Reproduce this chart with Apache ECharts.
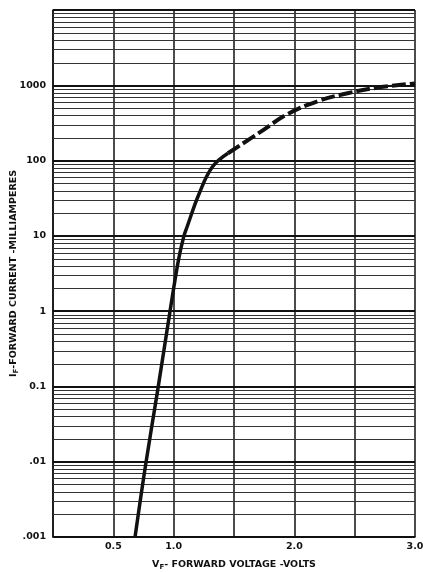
<!DOCTYPE html>
<html>
<head>
<meta charset="utf-8">
<script src="https://cdn.jsdelivr.net/npm/echarts@6/dist/echarts.min.js"></script>
<style>
html,body{margin:0;padding:0;background:#fff;}
#chart{width:423px;height:572px;}
</style>
</head>
<body>
<div id="chart"></div>
<script>
// Forward voltage (V) vs forward current (mA)
var solidVolts   = [0.68, 0.767, 0.868, 0.97, 1.04, 1.083, 1.11, 1.21, 1.32, 1.45];
var solidCurrent = [0.001, 0.009, 0.09, 1.0, 4.8, 9.7, 13, 36, 82, 125];
var dashVolts    = [1.45, 1.71, 1.95, 2.2, 2.45, 2.67, 3.0];
var dashCurrent  = [125, 235, 420, 620, 790, 920, 1060];

var xTickLabels = {"0.5": "0.5", "1": "1.0", "2": "2.0", "3": "3.0"};
var yTickLabels = {"-3": ".001", "-2": ".01", "-1": "0.1", "0": "1", "1": "10", "2": "100", "3": "1000", "4": ""};

var yMin = 0.001, yMax = 10000;
var xMin = 0, xMax = 3.0, xInterval = 0.5;

// minor log grid values (2..9 of each decade)
var minorGrid = [];
for (var e = -3; e < 4; e++) {
  for (var m = 2; m <= 9; m++) {
    minorGrid.push(m * Math.pow(10, e));
  }
}

function pairs(xs, ys) {
  return xs.map(function (x, i) { return [x, ys[i]]; });
}

var FONT = 'DejaVu Sans';
var nameRich = {
  m: {fontFamily: FONT, fontWeight: 'bold', fontSize: 9.5, color: '#111'},
  s: {fontFamily: FONT, fontWeight: 'bold', fontSize: 7, color: '#111', padding: [6, 0, 0, 0]}
};
var chart = echarts.init(document.getElementById('chart'), null, {renderer: 'canvas'});
chart.setOption({
  animation: false,
  backgroundColor: '#fff',
  grid: {left: 53, right: 8, top: 10, bottom: 35, containLabel: false, outerBoundsMode: 'none'},
  xAxis: {
    type: 'value',
    min: xMin, max: xMax, interval: xInterval,
    axisLine: {show: true, lineStyle: {color: '#111', width: 1.5}},
    axisTick: {show: false},
    splitLine: {show: true, lineStyle: {color: '#111', width: 1.5}},
    axisLabel: {
      margin: 5,
      color: '#111', fontFamily: FONT, fontWeight: 'bold', fontSize: 9.5,
      formatter: function (v) {
        var k = String(Math.round(v * 10) / 10);
        return xTickLabels[k] || '';
      }
    },
    name: '{m|V}{s|F}{m|- FORWARD VOLTAGE -VOLTS}',
    nameLocation: 'middle',
    nameGap: 21,
    nameMoveOverlap: false,
    nameTextStyle: {color: '#111', rich: nameRich}
  },
  yAxis: {
    type: 'log', logBase: 10,
    min: yMin, max: yMax,
    axisLine: {show: true, lineStyle: {color: '#111', width: 1.5}},
    axisTick: {show: false},
    splitLine: {show: true, lineStyle: {color: '#111', width: 2}},
    axisLabel: {
      margin: 7,
      color: '#111', fontFamily: FONT, fontWeight: 'bold', fontSize: 9.5,
      formatter: function (v) {
        var k = String(Math.round(Math.log10(v)));
        return yTickLabels[k] !== undefined ? yTickLabels[k] : '';
      }
    },
    name: '{m|I}{s|F}{m|-FORWARD CURRENT -MILLIAMPERES}',
    nameLocation: 'middle',
    nameGap: 33,
    nameMoveOverlap: false,
    nameTextStyle: {color: '#111', rich: nameRich}
  },
  series: [
    {
      type: 'custom',
      silent: true,
      data: minorGrid.map(function (v) { return [xMin, v]; }),
      encode: {x: 0, y: 1},
      z: 1,
      renderItem: function (params, api) {
        var v = api.value(1);
        var p0 = api.coord([xMin, v]);
        var p1 = api.coord([xMax, v]);
        var y = Math.round(p0[1]) + 0.5;
        return {
          type: 'line',
          shape: {x1: p0[0], y1: y, x2: p1[0], y2: y},
          style: {stroke: '#333', lineWidth: 1}
        };
      }
    },
    {
      type: 'line',
      data: pairs(solidVolts, solidCurrent),
      smooth: 0.4,
      showSymbol: false,
      symbol: 'none',
      lineStyle: {color: '#111', width: 3.5, type: 'solid'},
      z: 5
    },
    {
      type: 'line',
      data: pairs(dashVolts, dashCurrent),
      smooth: 0.4,
      showSymbol: false,
      symbol: 'none',
      lineStyle: {color: '#111', width: 4, type: [14, 4]},
      z: 5
    }
  ]
});
</script>
</body>
</html>
